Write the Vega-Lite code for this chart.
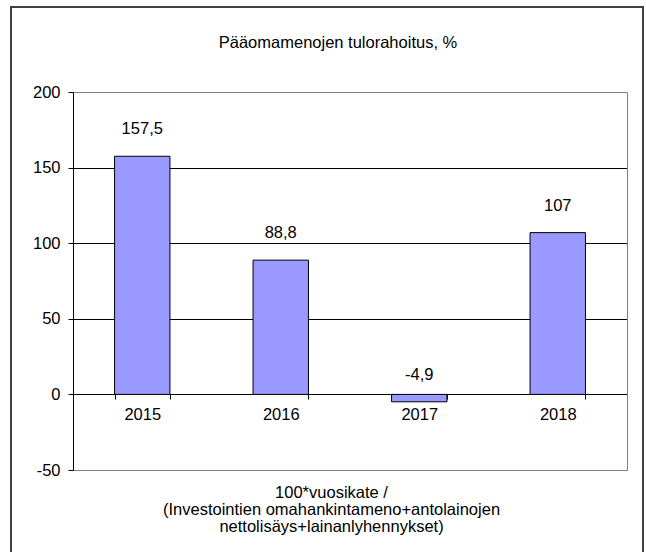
{
  "$schema": "https://vega.github.io/schema/vega-lite/v6.json",
  "width": 632,
  "height": 550,
  "autosize": {"type": "none"},
  "padding": {"left": 11, "top": 7, "right": 3, "bottom": 0},
  "background": "white",
  "config": {
    "font": "Liberation Sans",
    "view": {"stroke": "#404040", "strokeWidth": 2},
    "axis": {"labelFont": "Liberation Sans", "titleFont": "Liberation Sans", "labelFontSize": 16.5, "labelColor": "#000", "tickColor": "#000", "domainColor": "#000"}
  },
  "title": {"text": "Pääomamenojen tulorahoitus, %", "fontSize": 16.5, "fontWeight": "normal", "font": "Liberation Sans", "color": "#000", "offset": -44, "dx": 11, "anchor": "middle"},
  "data": {"values": [
    {"year": "2015", "value": 157.5, "label": "157,5"},
    {"year": "2016", "value": 88.8, "label": "88,8"},
    {"year": "2017", "value": -4.9, "label": "-4,9"},
    {"year": "2018", "value": 107, "label": "107"}
  ]},
  "encoding": {
    "x": {
      "field": "year", "type": "nominal", "sort": null,
      "scale": {"range": [62, 616], "paddingInner": 0.6, "paddingOuter": 0.3},
      "axis": {
        "orient": "bottom", "offset": -163, "labelAngle": 0, "tickBand": "extent", "tickSize": 5, "labelPadding": 7,
        "domainColor": "#000", "grid": false,
        "title": ["100*vuosikate /", "(Investointien omahankintameno+antolainojen", "nettolisäys+lainanlyhennykset)"],
        "titleFontSize": 16.5, "titleFontWeight": "normal", "titleX": 320, "titleY": 90, "titleBaseline": "top",
        "titleAlign": "center", "titleLineHeight": 17, "titleColor": "#000"
      }
    }
  },
  "layer": [
    {
      "mark": {"type": "bar", "fill": "#9999FF", "stroke": "#000", "strokeWidth": 1},
      "encoding": {
        "y": {
          "field": "value", "type": "quantitative",
          "scale": {"domain": [-50, 200], "range": [463, 85], "nice": false, "zero": true},
          "axis": {
            "orient": "left", "offset": -62, "values": [-50, 0, 50, 100, 150, 200], "grid": true,
            "labelExpr": "'' + datum.value",
            "gridColor": {"condition": {"test": "datum.value == 200 || datum.value == -50", "value": "#808080"}, "value": "#000"},
            "gridOpacity": 1, "gridWidth": 1, "tickSize": 5, "labelPadding": 8, "title": null, "domainColor": "#000"
          }
        }
      }
    },
    {
      "mark": {"type": "text", "dy": -22, "fontSize": 16.5, "font": "Liberation Sans", "color": "#000", "baseline": "alphabetic"},
      "encoding": {
        "text": {"field": "label"},
        "y": {
          "field": "value", "type": "quantitative",
          "scale": {"domain": [-50, 200], "range": [463, 85], "nice": false, "zero": true},
          "axis": {"orient": "right", "offset": -16, "labels": false, "ticks": false, "grid": false, "title": null, "domainColor": "#808080"}
        }
      }
    }
  ],
  "resolve": {"axis": {"y": "independent"}}
}
